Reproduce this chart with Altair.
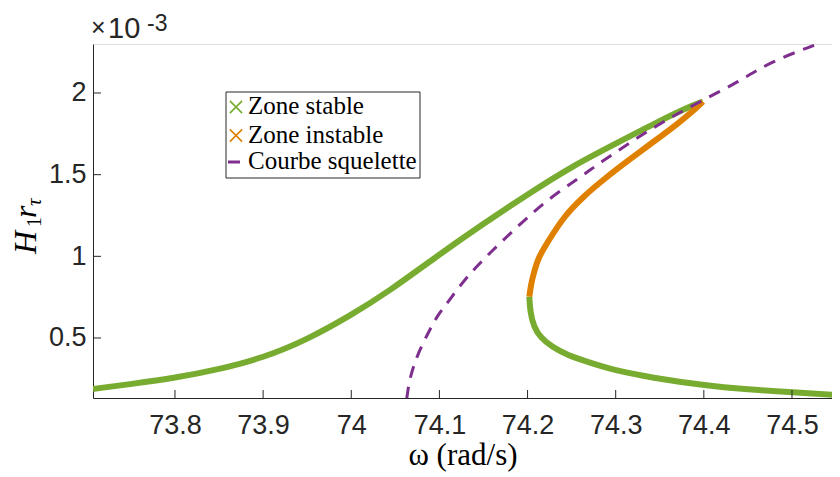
import altair as alt
import pandas as pd

# ---- data (amplitude in units of 1e-3) ----
up_w = [73.707, 73.75, 73.8, 73.85, 73.9, 73.95, 74.0, 74.044, 74.093, 74.15, 74.203, 74.25, 74.3, 74.35, 74.385, 74.399]
up_a = [0.188, 0.218, 0.255, 0.308, 0.378, 0.49, 0.64, 0.79, 0.985, 1.2, 1.39, 1.55, 1.69, 1.83, 1.92, 1.947]

un_w = [74.399, 74.39, 74.37, 74.343, 74.315, 74.288, 74.263, 74.241, 74.222, 74.212, 74.207, 74.204, 74.202]
un_a = [1.947, 1.9, 1.81, 1.702, 1.59, 1.478, 1.365, 1.243, 1.08, 0.99, 0.896, 0.83, 0.753]

lo_w = [74.202, 74.203, 74.207, 74.215, 74.228, 74.245, 74.27, 74.3, 74.34, 74.4, 74.45, 74.5, 74.555]
lo_a = [0.753, 0.66, 0.57, 0.5, 0.445, 0.395, 0.35, 0.3, 0.258, 0.21, 0.185, 0.167, 0.15]

bb_w = [74.063, 74.066, 74.075, 74.089, 74.098, 74.109, 74.13, 74.157, 74.19, 74.222, 74.26, 74.282, 74.324, 74.362, 74.399, 74.44, 74.475, 74.526]
bb_a = [0.13, 0.25, 0.4, 0.55, 0.64, 0.714, 0.87, 1.02, 1.19, 1.345, 1.486, 1.572, 1.725, 1.85, 1.957, 2.07, 2.19, 2.294]

x_ticks = [73.8, 73.9, 74.0, 74.1, 74.2, 74.3, 74.4, 74.5]
y_ticks = [0.5, 1.0, 1.5, 2.0]
legend_labels = ["Zone stable", "Zone instable", "Courbe squelette"]
legend_colors = ["#77AC30", "#E08000", "#7E2F8E"]

GREEN, ORANGE, PURPLE = legend_colors
AX = "#262626"
W, H = 739, 354
X_DOM = [73.707, 74.5454]
Y_DOM = [0.1326, 2.30]

def frame(ws, as_, name):
    return pd.DataFrame({"w": ws, "a": as_, "o": list(range(len(ws))), "s": name})

d_up = frame(up_w, up_a, "up")
d_un = frame(un_w, un_a, "un")
d_lo = frame(lo_w, lo_a, "lo")
d_bb = frame(bb_w, bb_a, "bb")

xs = alt.Scale(domain=X_DOM, nice=False, zero=False)
ys = alt.Scale(domain=Y_DOM, nice=False, zero=False)

x_axis = alt.Axis(values=x_ticks, format=".1~f", ticks=False, grid=False,
                  domainColor=AX, domainWidth=1, labelColor=AX,
                  labelFont="Liberation Sans", labelFontSize=27,
                  labelBaseline="alphabetic", labelPadding=35,
                  title="ω (rad/s)", titleFont="Liberation Serif",
                  titleFontSize=31, titleFontWeight="normal", titleColor="#000000",
                  titleBaseline="alphabetic", titleY=66)
y_axis = alt.Axis(values=y_ticks, format=".1~f", ticks=False, grid=False,
                  domainColor=AX, domainWidth=1, labelColor=AX,
                  labelFont="Liberation Sans", labelFontSize=27,
                  labelPadding=7, title=None)

def curve(df, color, width, dash=None, axes=False):
    kw = dict(color=color, strokeWidth=width, clip=True, strokeCap="butt",
              interpolate="basis")
    if dash:
        kw["strokeDash"] = dash
    if axes:
        xe = alt.X("w:Q", scale=xs, axis=x_axis)
        ye = alt.Y("a:Q", scale=ys, axis=y_axis)
    else:
        xe = alt.X("w:Q", scale=xs)
        ye = alt.Y("a:Q", scale=ys)
    return alt.Chart(df).mark_line(**kw).encode(x=xe, y=ye, order="o:Q")

l_up = curve(d_up, GREEN, 6, axes=True)
l_lo = curve(d_lo, GREEN, 6)
l_un = curve(d_un, ORANGE, 6)
l_bb = curve(d_bb, PURPLE, 3, dash=[12, 9])

# inward ticks (same field names so the axes merge)
xt = alt.Chart(pd.DataFrame({"w": x_ticks})).mark_rule(color=AX, strokeWidth=1).encode(
    x=alt.X("w:Q", scale=xs), y=alt.value(H), y2=alt.value(H - 8))
yt = alt.Chart(pd.DataFrame({"a": y_ticks})).mark_rule(color=AX, strokeWidth=1).encode(
    y=alt.Y("a:Q", scale=ys), x=alt.value(0), x2=alt.value(8))

# exponent label
exp1 = alt.Chart(pd.DataFrame({"t": ["×"]})).mark_text(
    font="Liberation Sans", fontSize=25, color=AX, align="left", baseline="alphabetic"
).encode(x=alt.value(-2), y=alt.value(-8), text="t:N")
exp1b = alt.Chart(pd.DataFrame({"t": ["10"]})).mark_text(
    font="Liberation Sans", fontSize=29, color=AX, align="left", baseline="alphabetic"
).encode(x=alt.value(15), y=alt.value(-6), text="t:N")
exp2 = alt.Chart(pd.DataFrame({"t": ["-3"]})).mark_text(
    font="Liberation Sans", fontSize=23, color=AX, align="left", baseline="alphabetic"
).encode(x=alt.value(54), y=alt.value(-13), text="t:N")

# y label H_1 r_tau (rotated)
def ytxt(t, x, y, size, italic=True):
    return alt.Chart(pd.DataFrame({"t": [t]})).mark_text(
        font="Liberation Serif", fontSize=size, fontStyle="italic" if italic else "normal",
        color="#000000", align="left", baseline="alphabetic", angle=270
    ).encode(x=alt.value(x), y=alt.value(y), text="t:N")

yl_H = ytxt("H", -57, 254 - 44, 32)
yl_1 = ytxt("1", -52, 227 - 44, 20, italic=False)
yl_r = ytxt("r", -57, 218 - 44, 32)
yl_t = ytxt("τ", -52, 206 - 44, 21)

# legend
box = alt.Chart(pd.DataFrame({"k": [0]})).mark_rect(fill="white", stroke=AX, strokeWidth=1).encode(
    x=alt.value(226 - 93), x2=alt.value(420 - 93), y=alt.value(92 - 44), y2=alt.value(178 - 44))
leg = pd.DataFrame({"label": legend_labels, "color": legend_colors,
                    "row": [107 - 44, 135.5 - 44, 162 - 44]})
leg["base"] = leg["row"] + 7
cscale = alt.Scale(domain=legend_labels, range=legend_colors)
leg_x = alt.Chart(leg.iloc[:2]).mark_point(
    shape="M-1,-1L1,1M1,-1L-1,1", filled=False, size=150, strokeWidth=1.6, opacity=1
).encode(x=alt.value(236 - 93), y=alt.Y("row:Q", scale=None),
         color=alt.Color("label:N", scale=cscale, legend=None))
leg_l = alt.Chart(leg.iloc[2:]).mark_rule(strokeWidth=3).encode(
    x=alt.value(228 - 93), x2=alt.value(240 - 93), y=alt.Y("row:Q", scale=None),
    color=alt.Color("label:N", scale=cscale, legend=None))
leg_t = alt.Chart(leg).mark_text(font="Liberation Serif", fontSize=25, color="#000000",
                                 align="left", baseline="alphabetic").encode(
    x=alt.value(248 - 93), y=alt.Y("base:Q", scale=None), text="label:N")

chart = alt.layer(
    l_up, l_lo, l_un, l_bb, xt, yt, exp1, exp1b, exp2, yl_H, yl_1, yl_r, yl_t,
    box, leg_x, leg_l, leg_t
).properties(
    width=W, height=H,
    autosize=alt.AutoSizeParams(type="none"),
    padding={"left": 85, "top": 36, "right": 0, "bottom": 78},
).configure_view(stroke=None).configure(background="white")

chart.save("out.html", embed_options={"renderer": "svg", "actions": False})
